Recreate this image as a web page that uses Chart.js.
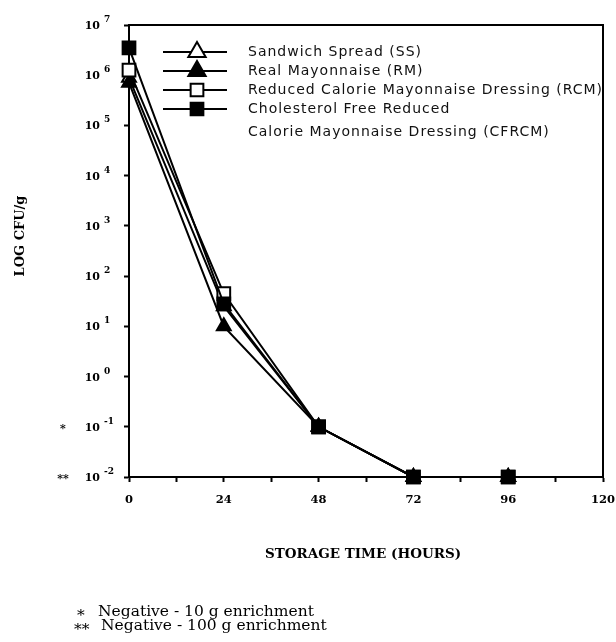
<!DOCTYPE html>
<html>
<head>
<meta charset="utf-8">
<script src="https://cdn.jsdelivr.net/npm/chart.js@4.4.1/dist/chart.umd.min.js"></script>
<style>
  html, body { margin: 0; padding: 0; background: #fff; }
  #wrap { width: 616px; height: 642px; }
</style>
</head>
<body>
<div id="wrap"><canvas id="chart" width="616" height="642"></canvas></div>
<script>

// storage time, hours
const hours = [0, 24, 48, 72, 96];

// CFU/g
const ssCounts    = [8.9e5, 25, 0.1, 0.01, 0.01];
const rmCounts    = [7.1e5, 10, 0.1, 0.01, 0.01];
const rcmCounts   = [1.26e6, 45, 0.1, 0.01, 0.01];
const cfrcmCounts = [3.5e6, 28, 0.1, 0.01, 0.01];

const seriesLabels = [
    ["Sandwich Spread (SS)"],
    ["Real Mayonnaise (RM)"],
    ["Reduced Calorie Mayonnaise Dressing (RCM)"],
    ["Cholesterol Free Reduced", "Calorie Mayonnaise Dressing (CFRCM)"]
];

const xTickLabels = [0, 24, 48, 72, 96, 120];
const yExponents = [7, 6, 5, 4, 3, 2, 1, 0, -1, -2];
const yMarks = { "-1": "*", "-2": "**" };

const SERIF = '"DejaVu Serif", "Liberation Serif", serif';
const SANS = '"DejaVu Sans", "Liberation Sans", sans-serif';

function toPoints(values) {
    var pts = [];
    for (var i = 0; i < values.length; i++) {
        pts.push({ x: hours[i], y: values[i] });
    }
    return pts;
}

function makeSeries(label, values, style, filled, radius, order) {
    return {
        label: label,
        data: toPoints(values),
        borderColor: "#000",
        borderWidth: 2,
        backgroundColor: filled ? "#000" : "#fff",
        pointStyle: style,
        pointRadius: radius,
        pointBorderWidth: 2,
        pointBorderColor: "#000",
        pointBackgroundColor: filled ? "#000" : "#fff",
        tension: 0,
        fill: false,
        clip: false,
        order: order
    };
}

// axes labels, box, legend and footnotes as they appear on the paper figure
const paperDecor = {
    id: "paperDecor",
    afterDraw: function (chart) {
        var ctx = chart.ctx;
        var area = chart.chartArea;
        var xs = chart.scales.x;
        var ys = chart.scales.y;

        ctx.save();
        ctx.strokeStyle = "#000";
        ctx.lineWidth = 2;
        ctx.beginPath();
        ctx.moveTo(area.left, area.top);
        ctx.lineTo(area.right, area.top);
        ctx.lineTo(area.right, area.bottom);
        ctx.stroke();

        ctx.fillStyle = "#000";

        // y tick labels: 10 with superscript exponent
        ctx.textBaseline = "alphabetic";
        for (var i = 0; i < yExponents.length; i++) {
            var e = yExponents[i];
            var py = ys.getPixelForValue(Math.pow(10, e));
            ctx.font = "bold 11px " + SERIF;
            ctx.textAlign = "right";
            ctx.fillText("10", 100, py + 4);
            ctx.font = "bold 9px " + SERIF;
            ctx.textAlign = "left";
            ctx.fillText(String(e), 104, py - 3);
            if (yMarks[e]) {
                ctx.font = "bold 11px " + SERIF;
                ctx.textAlign = "center";
                ctx.fillText(yMarks[e], 63, py + 5);
            }
        }

        // x tick labels
        ctx.font = "bold 11.5px " + SERIF;
        ctx.textAlign = "center";
        for (var j = 0; j < xTickLabels.length; j++) {
            ctx.fillText(String(xTickLabels[j]), xs.getPixelForValue(xTickLabels[j]), area.bottom + 26);
        }

        // axis titles
        ctx.font = "bold 13.5px " + SERIF;
        ctx.fillText("STORAGE TIME (HOURS)", 363, 558);
        ctx.save();
        ctx.translate(24, 236);
        ctx.rotate(-Math.PI / 2);
        ctx.font = "bold 13px " + SERIF;
        ctx.fillText("LOG CFU/g", 0, 0);
        ctx.restore();

        // footnotes
        ctx.textAlign = "left";
        ctx.font = "15.5px " + SERIF;
        ctx.fillText("*", 77, 620);
        ctx.fillText("Negative - 10 g enrichment", 98, 616);
        ctx.fillText("**", 74, 634);
        ctx.fillText("Negative - 100 g enrichment", 101, 630);

        // legend inside the plot
        var ly = [52, 71, 90, 109];
        ctx.font = "14px " + SANS;
        ctx.letterSpacing = "1px";
        ctx.textBaseline = "middle";
        chart.data.datasets.forEach(function (ds, k) {
            var y = ly[k];
            ctx.lineWidth = 2;
            ctx.strokeStyle = "#000";
            ctx.beginPath();
            ctx.moveTo(163, y);
            ctx.lineTo(227, y);
            ctx.stroke();
            ctx.fillStyle = ds.pointBackgroundColor;
            Chart.helpers.drawPoint(ctx, {
                pointStyle: ds.pointStyle,
                radius: ds.pointStyle === "triangle" ? 10 : 9,
                rotation: 0,
                borderWidth: 2
            }, 197, y);
            ctx.fillStyle = "#111";
            var lines = seriesLabels[k];
            for (var n = 0; n < lines.length; n++) {
                ctx.fillText(lines[n], 248, y + n * 23);
            }
        });
        ctx.letterSpacing = "0px";
        ctx.restore();
    }
};

new Chart(document.getElementById("chart"), {
    type: "line",
    data: {
        datasets: [
            makeSeries(seriesLabels[0].join(" "), ssCounts, "triangle", false, 8, 3),
            makeSeries(seriesLabels[1].join(" "), rmCounts, "triangle", true, 8, 2),
            makeSeries(seriesLabels[2].join(" "), rcmCounts, "rect", false, 9, 1),
            makeSeries(seriesLabels[3].join(" "), cfrcmCounts, "rect", true, 9, 0)
        ]
    },
    options: {
        responsive: false,
        animation: false,
        layout: { padding: { left: 129, right: 13, top: 25, bottom: 165 } },
        plugins: {
            legend: { display: false },
            tooltip: { enabled: false }
        },
        scales: {
            x: {
                type: "linear",
                min: 0,
                max: 120,
                ticks: { stepSize: 12, display: false },
                grid: { drawOnChartArea: false, tickLength: 5, tickWidth: 2, tickColor: "#000" },
                border: { color: "#000", width: 2 },
                afterFit: function (s) { s.height = 0; }
            },
            y: {
                type: "logarithmic",
                min: 0.01,
                max: 1e7,
                ticks: { display: false },
                afterBuildTicks: function (s) {
                    s.ticks = yExponents.map(function (e) { return { value: Math.pow(10, e) }; });
                },
                grid: { drawOnChartArea: false, tickLength: 5, tickWidth: 2, tickColor: "#000" },
                border: { color: "#000", width: 2 },
                afterFit: function (s) { s.width = 0; }
            }
        }
    },
    plugins: [paperDecor]
});
</script>
</body>
</html>
